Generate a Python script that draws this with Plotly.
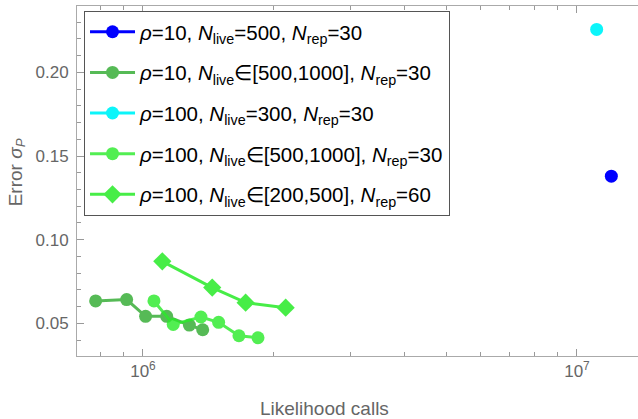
import plotly.graph_objects as go

# ---- data ----
blue_x = [1.2e7]
blue_y = [0.138]

dkgreen_x = [7.78e5, 9.17e5, 1.014e6, 1.134e6, 1.279e6, 1.373e6]
dkgreen_y = [0.0634, 0.0642, 0.0542, 0.0542, 0.0490, 0.0462]

cyan_x = [1.11e7]
cyan_y = [0.2257]

ltgreen_x = [1.06e6, 1.174e6, 1.36e6, 1.494e6, 1.664e6, 1.841e6]
ltgreen_y = [0.0634, 0.0494, 0.0538, 0.0506, 0.0426, 0.0414]

diamond_x = [1.108e6, 1.444e6, 1.724e6, 2.132e6]
diamond_y = [0.0871, 0.0714, 0.0624, 0.0594]

labels = [
    "<i>ρ</i>=10, <i>N</i><sub>live</sub>=500, <i>N</i><sub>rep</sub>=30",
    "<i>ρ</i>=10, <i>N</i><sub>live</sub>∈[500,1000], <i>N</i><sub>rep</sub>=30",
    "<i>ρ</i>=100, <i>N</i><sub>live</sub>=300, <i>N</i><sub>rep</sub>=30",
    "<i>ρ</i>=100, <i>N</i><sub>live</sub>∈[500,1000], <i>N</i><sub>rep</sub>=30",
    "<i>ρ</i>=100, <i>N</i><sub>live</sub>∈[200,500], <i>N</i><sub>rep</sub>=60",
]

x_major = [1e6, 1e7]
x_major_text = ["10<sup>6</sup>", "10<sup>7</sup>"]
x_minor = [7e5, 8e5, 9e5] + [k * 1e6 for k in range(2, 10)] + [2e7]

FONT = "Liberation Sans, Arial, sans-serif"
GRAY = "#666666"

fig = go.Figure()
series = [
    (blue_x, blue_y, "rgb(0,0,255)", "circle", 1.0),
    (dkgreen_x, dkgreen_y, "rgb(50,172,50)", "circle", 0.82),
    (cyan_x, cyan_y, "rgb(0,245,250)", "circle", 0.95),
    (ltgreen_x, ltgreen_y, "rgb(40,235,40)", "circle", 0.8),
    (diamond_x, diamond_y, "rgb(40,235,40)", "diamond", 0.85),
]
for i, (xs, ys, col, sym, op) in enumerate(series):
    fig.add_trace(go.Scatter(
        x=xs, y=ys, mode="lines+markers", name=labels[i],
        legendgroup=f"g{i}", opacity=op,
        line=dict(color=col, width=3),
        marker=dict(color=col, size=13 if sym == "circle" else 14, symbol=sym),
    ))

fig.update_layout(
    width=638, height=419,
    margin=dict(l=77, r=0, t=6, b=63),
    paper_bgcolor="white", plot_bgcolor="white",
    font=dict(family=FONT, size=17, color=GRAY),
    showlegend=True,
    legend=dict(
        x=0.0125, y=0.986, xanchor="left", yanchor="top",
        bgcolor="white", bordercolor="#555555", borderwidth=1,
        font=dict(family=FONT, size=20.5, color="black"),
        tracegroupgap=11, itemwidth=45,
    ),
    xaxis=dict(
        type="log", range=[5.848, 7.1406],
        tickmode="array", tickvals=x_major, ticktext=x_major_text,
        ticks="inside", ticklen=7, tickcolor="#999999",
        showline=True, linecolor="#aaaaaa", linewidth=1, mirror="ticks",
        showgrid=False, zeroline=False,
        tickfont=dict(size=17, color=GRAY),
        minor=dict(tickmode="array", tickvals=x_minor, ticks="inside",
                   ticklen=4, tickcolor="#999999", showgrid=False),
    ),
    yaxis=dict(
        range=[0.0305, 0.2397],
        tickmode="linear", tick0=0, dtick=0.05, tickformat=".2f",
        ticks="inside", ticklen=7, tickcolor="#999999",
        showline=True, linecolor="#aaaaaa", linewidth=1,
        showgrid=False, zeroline=False,
        tickfont=dict(size=17, color=GRAY),
        ticklabelstandoff=4,
        minor=dict(dtick=0.01, ticks="inside", ticklen=4,
                   tickcolor="#999999", showgrid=False),
    ),
    annotations=[
        dict(text="Likelihood calls", xref="paper", yref="paper",
             x=0.442, y=-0.113, xanchor="center", yanchor="top",
             showarrow=False, font=dict(size=19, color=GRAY)),
        dict(text="Error <i>σ</i><sub><i>P</i></sub>", xref="paper", yref="paper",
             x=-0.108, y=0.526, xanchor="center", yanchor="middle",
             textangle=-90, showarrow=False, font=dict(size=19, color=GRAY)),
    ],
)

fig.write_html("out.html", config={"displayModeBar": False},
               post_script="document.body.style.margin='0';")
